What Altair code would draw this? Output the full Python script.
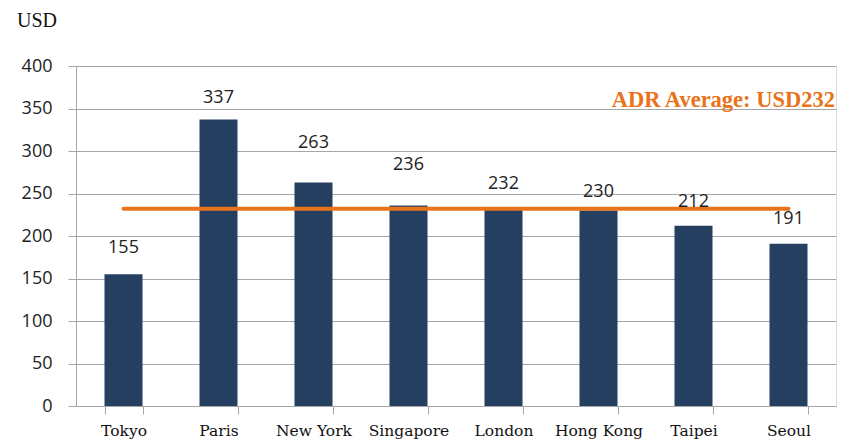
import altair as alt
import pandas as pd

cities = ["Tokyo", "Paris", "New York", "Singapore", "London", "Hong Kong", "Taipei", "Seoul"]
adr = [155, 337, 263, 236, 232, 230, 212, 191]
average = 232
# label lift above bar top (in value units), as in the reference
label_lift = [31, 25, 46, 48, 29, 22, 28, 29]

df = pd.DataFrame({"city": cities, "adr": adr, "avg": [average] * len(cities), "lift": label_lift})

NAVY = "#253F61"
ORANGE = "#E8731A"
GRID = "#A6A6A6"

x = alt.X("city:N", sort=cities, title=None,
          scale=alt.Scale(paddingInner=0.6, paddingOuter=0.3),
          axis=alt.Axis(labelAngle=0, labelFont="DejaVu Serif", labelFontSize=15.5,
                        labelColor="#111111", tickBand="extent", tickSize=8, tickColor=GRID,
                        domainColor=GRID, labelPadding=9, grid=False))

y = alt.Y("adr:Q", title=None,
          scale=alt.Scale(domain=[0, 400]),
          axis=alt.Axis(values=list(range(0, 401, 50)), labelFont="Open Sans", labelFontSize=18,
                        labelColor="#222222", tickSize=8, tickColor=GRID, domainColor=GRID,
                        gridColor=GRID, labelPadding=16))

base = alt.Chart(df)

bars = base.mark_bar(color=NAVY).encode(x=x, y=y)

line = base.mark_line(color=ORANGE, strokeWidth=4, strokeCap="round").encode(
    x=alt.X("city:N", sort=cities), y=alt.Y("avg:Q"))

labels = base.transform_calculate(ly="datum.adr + datum.lift").mark_text(
    font="Open Sans", fontSize=18, color="#222222", baseline="middle").encode(
    x=alt.X("city:N", sort=cities), y=alt.Y("ly:Q"), text=alt.Text("adr:Q"))

usd = alt.Chart(pd.DataFrame({"t": ["USD"]})).mark_text(
    font="Liberation Serif", fontSize=20, color="#111111", align="left", baseline="middle").encode(
    x=alt.value(-59), y=alt.value(-45), text="t:N")

adr_label = alt.Chart(pd.DataFrame({"t": [f"ADR Average: USD{average}"]})).mark_text(
    font="Liberation Serif", fontSize=22.5, fontWeight="bold", color=ORANGE,
    align="right", baseline="middle").encode(
    x=alt.value(759), y=alt.value(34), text="t:N")

chart = alt.layer(bars, line, labels, usd, adr_label).properties(
    width=760, height=340,
    autosize=alt.AutoSizeParams(type="none"),
    padding={"left": 68, "top": 58, "right": 6, "bottom": 36},
).configure_view(stroke=None).configure(background="white")

chart.save("out.html", embed_options={"renderer": "svg", "actions": False})
